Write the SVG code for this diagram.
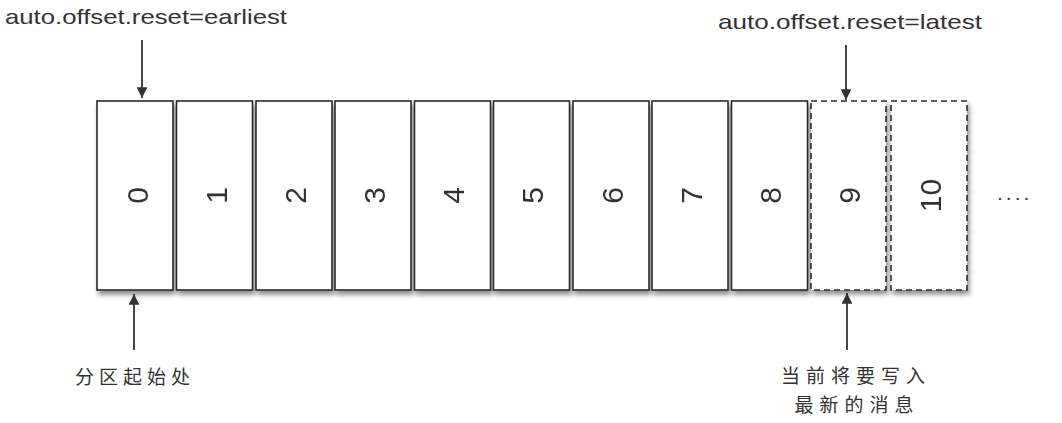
<svg xmlns="http://www.w3.org/2000/svg" width="1062" height="423" viewBox="0 0 1062 423">
<style>
.box{fill:#fff;stroke:#2b2b2b;stroke-width:1.6}
.dash{stroke-dasharray:6 4}
.num{font-family:"Liberation Sans",Arial,sans-serif;font-size:30px;fill:#333;text-anchor:middle;dominant-baseline:central}
.lbl{font-family:"Liberation Sans",Arial,sans-serif;font-size:21px;fill:#333}
.cn{font-family:"Noto Sans CJK SC","Liberation Sans",sans-serif;font-size:19px;fill:#333;text-anchor:middle}
.conn{stroke:#333;stroke-width:1.8;fill:none;marker-end:url(#ah)}
</style>
<defs>
<marker id="ah" viewBox="0 0 10 10" refX="10" refY="5" markerWidth="6" markerHeight="6" orient="auto" markerUnits="strokeWidth">
<path d="M0,0 L10,5 L0,10 z" fill="#333"/>
</marker>
<filter id="sh" x="-10%" y="-10%" width="130%" height="130%">
<feGaussianBlur in="SourceAlpha" stdDeviation="2.5"/>
<feOffset dx="2" dy="4" result="b"/>
<feComponentTransfer><feFuncA type="linear" slope="0.45"/></feComponentTransfer>
<feMerge><feMergeNode/><feMergeNode in="SourceGraphic"/></feMerge>
</filter>
</defs>
<rect width="1062" height="423" fill="#fff"/>
<g id="labels">
<text class="lbl" x="5" y="24" textLength="282" lengthAdjust="spacingAndGlyphs">auto.offset.reset=earliest</text>
<text class="lbl" x="718" y="29" textLength="264" lengthAdjust="spacingAndGlyphs">auto.offset.reset=latest</text>
<text class="cn" x="135" y="384" letter-spacing="5">分区起始处</text>
<text class="cn" x="856" y="383" letter-spacing="6">当前将要写入</text>
<text class="cn" x="857" y="412" letter-spacing="6">最新的消息</text>
<text class="lbl" x="997" y="200" font-size="24" letter-spacing="3">....</text>
</g>
<g id="n0" filter="url(#sh)"><rect class="box" x="97" y="101" width="76" height="189"/><text class="num" transform="translate(137,195.5) rotate(-90)">0</text></g>
<g id="n1" filter="url(#sh)"><rect class="box" x="176.5" y="101" width="76" height="189"/><text class="num" transform="translate(216,195.5) rotate(-90)">1</text></g>
<g id="n2" filter="url(#sh)"><rect class="box" x="256" y="101" width="76" height="189"/><text class="num" transform="translate(295,195.5) rotate(-90)">2</text></g>
<g id="n3" filter="url(#sh)"><rect class="box" x="335" y="101" width="76" height="189"/><text class="num" transform="translate(374,195.5) rotate(-90)">3</text></g>
<g id="n4" filter="url(#sh)"><rect class="box" x="414.5" y="101" width="76" height="189"/><text class="num" transform="translate(453.5,195.5) rotate(-90)">4</text></g>
<g id="n5" filter="url(#sh)"><rect class="box" x="493.5" y="101" width="76" height="189"/><text class="num" transform="translate(532.5,195.5) rotate(-90)">5</text></g>
<g id="n6" filter="url(#sh)"><rect class="box" x="573" y="101" width="76" height="189"/><text class="num" transform="translate(612,195.5) rotate(-90)">6</text></g>
<g id="n7" filter="url(#sh)"><rect class="box" x="652" y="101" width="76" height="189"/><text class="num" transform="translate(691,195.5) rotate(-90)">7</text></g>
<g id="n8" filter="url(#sh)"><rect class="box" x="731.5" y="101" width="76" height="189"/><text class="num" transform="translate(770.5,195.5) rotate(-90)">8</text></g>
<g id="n9" filter="url(#sh)"><rect class="box dash" x="811" y="101" width="75" height="189"/><text class="num" transform="translate(849.5,195.5) rotate(-90)">9</text></g>
<g id="n10" filter="url(#sh)"><rect class="box dash" x="891" y="101" width="76" height="189"/><text class="num" transform="translate(930,195.5) rotate(-90)">10</text></g>
<g id="connectors">
<line class="conn" x1="142" y1="40" x2="142" y2="98"/>
<line class="conn" x1="846" y1="45" x2="846" y2="100"/>
<line class="conn" x1="134" y1="350" x2="134" y2="294"/>
<line class="conn" x1="847" y1="350" x2="847" y2="293"/>
</g>
</svg>
